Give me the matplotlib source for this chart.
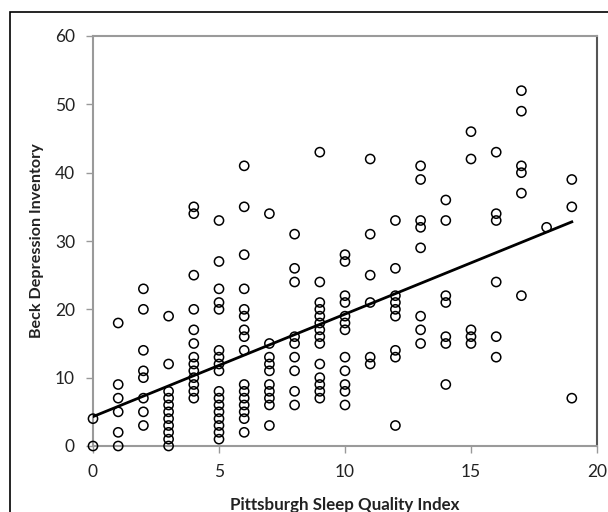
import numpy as np
import matplotlib.pyplot as plt
from matplotlib.patches import Rectangle

# PSQI score -> BDI scores, one list per column
psqi_vals = [0, 1, 2, 3, 4, 5, 6, 7, 8, 9, 10, 11, 12, 13, 14, 15, 16, 17, 18, 19]
bdi_by_psqi = [
    [0, 4],
    [0, 2, 5, 7, 9, 18],
    [3, 5, 7, 10, 11, 14, 20, 23],
    [0, 1, 2, 3, 4, 5, 6, 7, 8, 12, 19],
    [7, 8, 9, 10, 11, 12, 13, 15, 17, 20, 25, 34, 35],
    [1, 2, 3, 4, 5, 6, 7, 8, 11, 12, 13, 14, 20, 21, 23, 27, 33],
    [2, 4, 5, 6, 7, 8, 9, 14, 16, 17, 19, 20, 23, 28, 35, 41],
    [3, 6, 7, 8, 9, 11, 12, 13, 15, 34],
    [6, 8, 11, 13, 15, 16, 24, 26, 31],
    [7, 8, 9, 10, 12, 15, 16, 17, 18, 19, 20, 21, 24, 43],
    [6, 8, 9, 11, 13, 17, 18, 19, 21, 22, 27, 28],
    [12, 13, 21, 25, 31, 42],
    [3, 13, 14, 19, 20, 21, 22, 26, 33],
    [15, 17, 19, 29, 32, 33, 39, 41],
    [9, 15, 16, 21, 22, 33, 36],
    [15, 16, 17, 42, 46],
    [13, 16, 24, 33, 34, 43],
    [22, 37, 40, 41, 49, 52],
    [32],
    [7, 35, 39],
]

# fitted line as printed in the chart (overlapping points hide part of the sample)
trend_intercept = 4.3
trend_slope = 1.5

x = []
y = []
for p, col in zip(psqi_vals, bdi_by_psqi):
    x += [p] * len(col)
    y += col
x = np.array(x)
y = np.array(y)

xl = np.array([x.min(), x.max()])

plt.rcParams['font.family'] = ['Lato', 'DejaVu Sans']

fig = plt.figure(figsize=(6.08, 5.12), dpi=100)
ax = fig.add_axes([93/608, 66/512, 504/608, 410/512])

ax.scatter(x, y, s=44, facecolors='none', edgecolors='black', linewidths=1.1, zorder=3, clip_on=False)
ax.plot(xl, trend_intercept + trend_slope*xl, color='black', lw=2, zorder=4)

ax.set_xlim(0, 20)
ax.set_ylim(0, 60)
ax.set_xticks([0, 5, 10, 15, 20])
ax.set_yticks([0, 10, 20, 30, 40, 50, 60])
ax.tick_params(direction='out', length=5, width=1, color='#999999', labelsize=12.5,
               labelcolor='#222222', pad=8)
for s in ['left', 'bottom', 'top']:
    ax.spines[s].set_color('#9a9a9a')
    ax.spines[s].set_linewidth(1.5)
ax.spines['right'].set_color('#555555')
ax.spines['right'].set_linewidth(1.5)

ax.set_xlabel('Pittsburgh Sleep Quality Index', fontsize=12.2, fontweight='bold', labelpad=12,
              color='#222222')
ax.set_ylabel('Beck Depression Inventory', fontsize=11.6, fontweight='bold', labelpad=8,
              color='#222222')

# outer frame of the original figure
fig.patches.append(Rectangle((9.5/608, -0.1), 1.2, 1.1 - 12/512, transform=fig.transFigure,
                             fill=False, edgecolor='black', lw=1.2))

fig.savefig('out.png', dpi=100)
